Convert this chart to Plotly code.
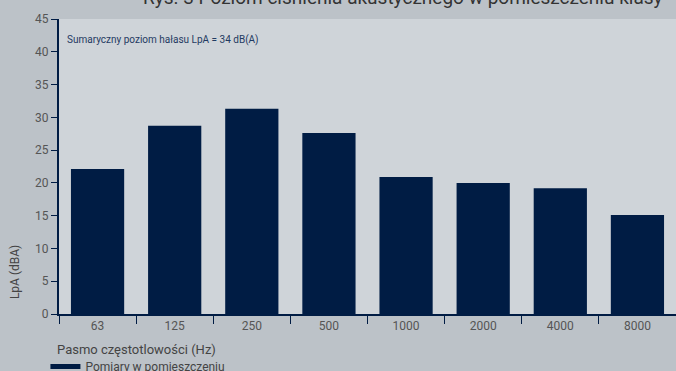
import plotly.graph_objects as go

categories = ["63", "125", "250", "500", "1000", "2000", "4000", "8000"]
values = [22.1, 28.7, 31.3, 27.6, 20.9, 20.0, 19.2, 15.1]
y_ticks = [0, 5, 10, 15, 20, 25, 30, 35, 40, 45]
series_name = "Pomiary w pomieszczeniu"
title_text = "Rys. 3 Poziom ciśnienia akustycznego w pomieszczeniu klasy"
note_text = "Sumaryczny poziom hałasu LpA = 34 dB(A)"
x_title = "Pasmo częstotlowości (Hz)"
y_title = "LpA (dBA)"

NAVY = "#001c44"
FONT = "Roboto"

fig = go.Figure()
fig.add_trace(go.Bar(
    x=categories, y=values, marker=dict(color=NAVY, line=dict(width=0)),
    width=0.69, showlegend=False, name=series_name,
))
fig.add_trace(go.Scatter(
    x=[None], y=[None], mode="lines", line=dict(color=NAVY, width=5),
    name=series_name, showlegend=True,
))

fig.update_layout(
    width=676, height=371,
    margin=dict(l=59, r=0, t=19, b=57, autoexpand=False),
    paper_bgcolor="#bcc2c8",
    plot_bgcolor="#cfd4d9",
    font=dict(family=FONT, size=12, color="#555555"),
    showlegend=True,
    legend=dict(orientation="h", yref="paper",
                x=-0.022, xanchor="left", y=-0.129, yanchor="top",
                font=dict(size=12, color="#444444"), bgcolor="rgba(0,0,0,0)",
                itemwidth=30, tracegroupgap=0),
    xaxis=dict(
        type="category", tickson="boundaries", ticks="outside", ticklen=8,
        tickcolor=NAVY, tickwidth=1, showline=True, linecolor=NAVY, linewidth=2,
        showgrid=False, tickfont=dict(size=12, color="#555555"),
        range=[-0.5, 7.5],
    ),
    yaxis=dict(
        range=[0, 45], tickvals=y_ticks, ticks="outside", ticklen=6,
        tickcolor=NAVY, tickwidth=1, showline=True, linecolor=NAVY, linewidth=2,
        showgrid=False, zeroline=False, tickfont=dict(size=12, color="#555555"),
    ),
    bargap=0.31,
)

fig.add_annotation(text=title_text, xref="paper", yref="paper", x=0.982, y=1.072,
                   xanchor="right", yanchor="middle", showarrow=False,
                   font=dict(size=19, color="#333333", family=FONT))
fig.add_annotation(text=note_text, xref="paper", yref="paper", x=0.0097, y=0.929,
                   xanchor="left", yanchor="middle", showarrow=False,
                   font=dict(size=10, color="#1f3a62", family=FONT))
fig.add_annotation(text=x_title, xref="paper", yref="paper", x=-0.0065, y=-0.122,
                   xanchor="left", yanchor="middle", showarrow=False,
                   font=dict(size=13, color="#444444", family=FONT))
fig.add_annotation(text=y_title, xref="paper", yref="paper", x=-0.0713, y=0.142,
                   xanchor="center", yanchor="middle", showarrow=False, textangle=-90,
                   font=dict(size=12, color="#444444", family=FONT))

fig.write_html("out.html")
